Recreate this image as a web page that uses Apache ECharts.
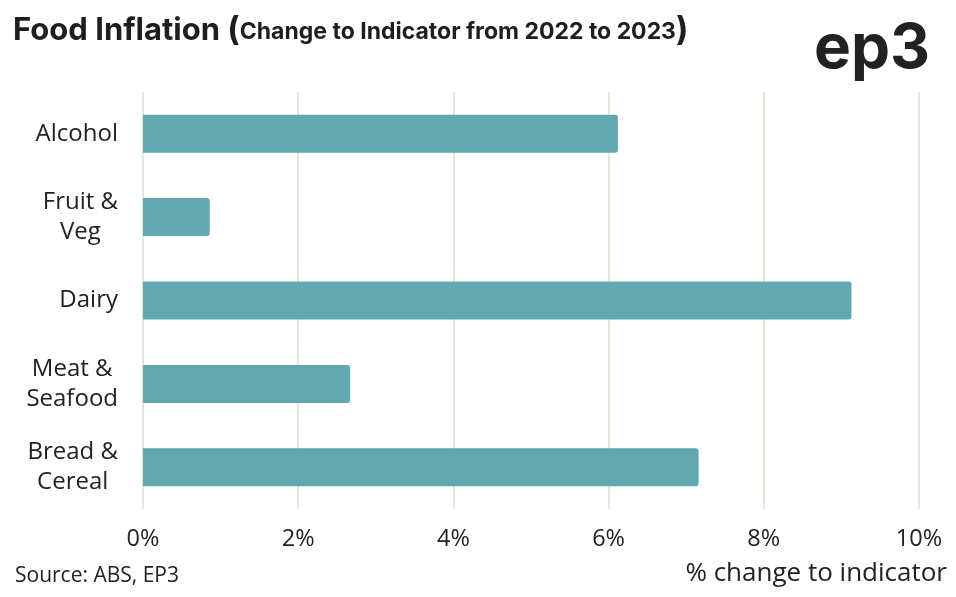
<!DOCTYPE html>
<html>
<head>
<meta charset="utf-8">
<script src="https://cdn.jsdelivr.net/npm/echarts@6/dist/echarts.min.js"></script>
<style>html,body{margin:0;padding:0;background:#fff}#c{width:956px;height:597px}</style>
</head>
<body>
<div id="c"></div>
<script>
const categories = ['Alcohol', 'Fruit &\nVeg', 'Dairy', 'Meat &\nSeafood', 'Bread &\nCereal'];
const values = [6.12, 0.86, 9.13, 2.67, 7.16];
const xTicks = [0, 2, 4, 6, 8, 10];

const chart = echarts.init(document.getElementById('c'), null, {renderer: 'canvas'});
const font = '"Open Sans", Lato, sans-serif';
chart.setOption({
  backgroundColor: '#ffffff',
  animation: false,
  title: {
    left: 8, top: 9,
    text: '{a|Food Inflation }{p|(}{b|Change to Indicator from 2022 to 2023}{p|)}',
    textStyle: {
      rich: {
        a: {fontFamily: 'Inter, Lato, sans-serif', fontWeight: 700, fontSize: 31, color: '#1e1e1e'},
        p: {fontFamily: 'Inter, Lato, sans-serif', fontWeight: 700, fontSize: 33, color: '#1e1e1e'},
        b: {fontFamily: 'Inter, Lato, sans-serif', fontWeight: 700, fontSize: 23, color: '#1e1e1e', padding: [4, 0, 0, 0]}
      }
    }
  },
  grid: {left: 143, right: 37, top: 92, bottom: 88, containLabel: false},
  xAxis: {
    type: 'value', min: 0, max: 10, interval: 2,
    axisLine: {show: false}, axisTick: {show: false},
    splitLine: {show: true, lineStyle: {color: '#e8e6dc', width: 2}},
    axisLabel: {formatter: v => xTicks.includes(v) ? v + '%' : '', color: '#222', fontFamily: font, fontSize: 23.5, margin: 18}
  },
  yAxis: {
    type: 'category', data: categories, inverse: true,
    axisLine: {show: false}, axisTick: {show: false},
    axisLabel: {
      margin: 25, align: 'right', color: '#222', fontFamily: font, fontSize: 24, lineHeight: 30,
      formatter: v => v.split('\n').map(s => '{c|' + s + '}').join('\n'),
      rich: {c: {align: 'center', fontFamily: font, fontSize: 24, lineHeight: 30, color: '#222'}}
    }
  },
  series: [{
    type: 'bar', data: values, barWidth: 38,
    itemStyle: {color: '#62a8b0', borderRadius: [0, 3, 3, 0]}
  }],
  graphic: [
    {type: 'text', right: 26, top: 18, style: {text: 'ep3', font: '700 62px Inter, Lato, sans-serif', fill: '#222'}},
    {type: 'text', left: 15, top: 566, style: {text: 'Source: ABS, EP3', font: '21px ' + font, fill: '#222'}},
    {type: 'text', right: 9, top: 561, style: {text: '% change to indicator', font: '26px ' + font, fill: '#222'}}
  ]
});
</script>
</body>
</html>
